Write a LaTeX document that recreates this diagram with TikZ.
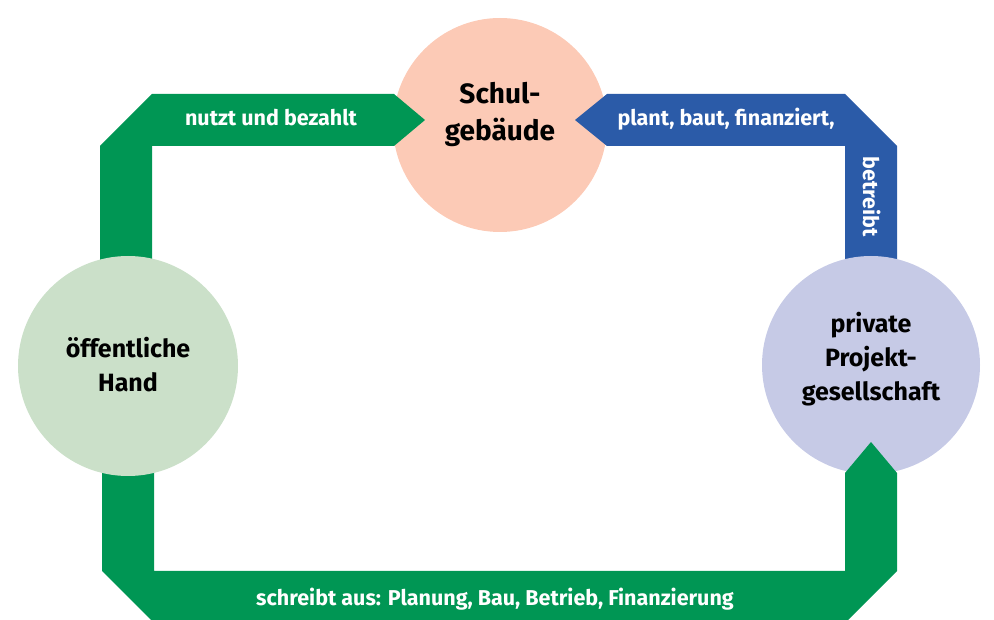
\documentclass[tikz,border=0pt]{standalone}
\usepackage{fontspec}
\setmainfont{Fira Sans}
\usetikzlibrary{backgrounds}

\definecolor{gruen}{RGB}{0,150,84}
\definecolor{blau}{RGB}{43,91,168}
\definecolor{lachs}{RGB}{252,202,182}
\definecolor{mint}{RGB}{203,224,201}
\definecolor{lavendel}{RGB}{198,202,230}

\tikzset{
  bubble/.style={circle, inner sep=0pt},
  bubbletext/.style={align=center, font=\bfseries\fontsize{25}{34}\selectfont},
  bandtext/.style={text=white, anchor=base, font=\bfseries\fontsize{21.5}{24}\selectfont},
}

\begin{document}
\begin{tikzpicture}[x=1pt,y=1pt]
\useasboundingbox (0,0) rectangle (994,619);

    \node[bubble, minimum size=214pt] (schul) at (500,494) {};
    \node[bubble, minimum size=220pt] (hand) at (128,253) {};
    \node[bubble, minimum size=218pt] (ppp) at (871,254) {};

 \begin{pgfonlayer}{background}
   \fill[lachs] (schul.center) circle[radius=107pt];
   % plant, baut, finanziert, betreibt
   \fill[blau] (ppp.center) -| (897,473) -- (845,525) -- (607,525) -- (575,499) -- (607,473) -- (845,473) |- (ppp.center) -- cycle;
   \fill[lavendel] (ppp.center) circle[radius=109pt];
   % schreibt aus
   \fill[gruen] (hand.center) -| (102,48) -- (154,-4) -- (845,-4) -- (897,48) -- (897,146) -- (871,177) -- (845,146) -- (845,48) -- (154,48) |- (hand.center) -- cycle;
   % nutzt und bezahlt
   \fill[gruen] (hand.center) -| (100,473) -- (152,525) -- (394,525) -- (425,499) -- (394,473) -- (152,473) |- (hand.center) -- cycle;
   \fill[mint] (hand.center) circle[radius=110pt];
 \end{pgfonlayer}

    \node[bubbletext, font=\bfseries\fontsize{28}{37}\selectfont] (schultext) at ([yshift=11pt]schul.center) {Schul-\\gebäude};
    \node[bubbletext] (handtext) at ([yshift=1pt]hand.center) {öffentliche\\Hand};
    \node[bubbletext] (ppptext) at ([yshift=6pt]ppp.center) {private\\Projekt-\\gesellschaft};

    \node[bandtext] (nutzt) at (271,493) {nutzt und bezahlt};
    \node[bandtext] (plant) at (726,493) {plant, baut, finanziert,};
    \node[bandtext, rotate=-90] (betreibt) at (863,422) {betreibt};
    \node[bandtext] (schreibt) at (495,13) {schreibt aus: Planung, Bau, Betrieb, Finanzierung};
\end{tikzpicture}
\end{document}
